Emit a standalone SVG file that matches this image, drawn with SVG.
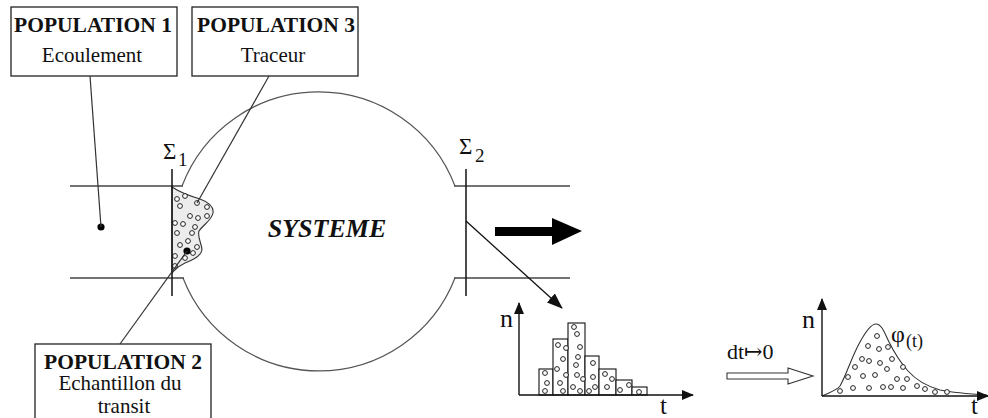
<svg xmlns="http://www.w3.org/2000/svg" width="988" height="418" viewBox="0 0 988 418">
<defs>
<style>
.box{fill:#fff;stroke:#222;stroke-width:1.3}
.ln{fill:none;stroke:#333;stroke-width:1.2}
.pipe{fill:none;stroke:#444;stroke-width:1.4}
.ax{fill:none;stroke:#111;stroke-width:1.4}
.bar{fill:#fff;stroke:#111;stroke-width:1.1}
.dot{fill:#fff;stroke:#222;stroke-width:1}
.hd{font-family:"Liberation Serif","Times New Roman",serif;font-weight:bold;font-size:21.5px;fill:#111;text-anchor:middle}
.tx{font-family:"Liberation Serif","Times New Roman",serif;font-size:21px;fill:#111;text-anchor:middle}
.lb{font-family:"Liberation Serif","DejaVu Serif",serif;fill:#111}
</style>
<marker id="ah" markerWidth="16" markerHeight="12" refX="15" refY="6" orient="auto" markerUnits="userSpaceOnUse">
<path d="M0,0 L16,6 L0,12 Z" fill="#111"/>
</marker>
<marker id="axh" markerWidth="12" markerHeight="10" refX="11" refY="5" orient="auto" markerUnits="userSpaceOnUse">
<path d="M0,0 L12,5 L0,10 Z" fill="#111"/>
</marker>
</defs>
<rect width="988" height="418" fill="#fff"/>

<g id="systeme">
<path d="M182,186 A146,146 0 0 1 455,186" fill="none" stroke="#555" stroke-width="1.2"/>
<path d="M183,278 A146,146 0 0 0 455,278" fill="none" stroke="#555" stroke-width="1.2"/>
<line class="pipe" x1="70" y1="186" x2="183" y2="186"/>
<line class="pipe" x1="70" y1="278" x2="184" y2="278"/>
<line class="pipe" x1="454" y1="186" x2="570" y2="186"/>
<line class="pipe" x1="454" y1="278" x2="570" y2="278"/>
<text class="lb" x="327" y="237" font-size="26" font-weight="bold" font-style="italic" text-anchor="middle">SYSTEME</text>
</g>

<g id="echantillon">
<path d="M172,187 C178,191 190,196 200,199 C208,202 214,207 213,213 C212,220 203,225 199,231 C197,237 202,244 202,250 C201,256 193,260 185,263 C178,266 175,270 172,273 Z" fill="#ececec" stroke="#333" stroke-width="1.1"/>
<g class="dot">
<circle cx="177" cy="199" r="2.4"/><circle cx="185" cy="196" r="2.4"/><circle cx="180" cy="206" r="2.4"/>
<circle cx="197" cy="203" r="2.4"/><circle cx="207" cy="207" r="2.4"/><circle cx="190" cy="216" r="2.4"/>
<circle cx="198" cy="218" r="2.4"/><circle cx="207" cy="216" r="2.4"/><circle cx="175" cy="223" r="2.4"/>
<circle cx="183" cy="224" r="2.4"/><circle cx="195" cy="227" r="2.4"/><circle cx="177" cy="233" r="2.4"/>
<circle cx="192" cy="233" r="2.4"/><circle cx="188" cy="241" r="2.4"/><circle cx="180" cy="245" r="2.4"/>
<circle cx="197" cy="247" r="2.4"/><circle cx="175" cy="256" r="2.4"/><circle cx="185" cy="258" r="2.4"/>
<circle cx="193" cy="253" r="2.4"/><circle cx="175" cy="266" r="2.4"/>
</g>
<circle cx="187" cy="251" r="3.6" fill="#000"/>
</g>

<g id="sigma1">
<line x1="172" y1="169" x2="172" y2="296" stroke="#111" stroke-width="1.5"/>
<text class="lb" x="163" y="159" font-size="23">Σ</text>
<text class="lb" x="178" y="166" font-size="19">1</text>
</g>

<g id="sigma2">
<line x1="466" y1="169" x2="466" y2="296" stroke="#111" stroke-width="1.5"/>
<text class="lb" x="459" y="154" font-size="23">Σ</text>
<text class="lb" x="475" y="162" font-size="19">2</text>
</g>

<g id="population1">
<rect class="box" x="11" y="7" width="166" height="69"/>
<text class="hd" x="93" y="32">POPULATION 1</text>
<text class="tx" x="92" y="62">Ecoulement</text>
<circle cx="101" cy="227" r="3.6" fill="#000"/>
</g>

<g id="population3">
<rect class="box" x="192" y="7" width="166" height="69"/>
<text class="hd" x="276" y="32">POPULATION 3</text>
<text class="tx" x="273" y="62">Traceur</text>
</g>

<g id="population2">
<rect class="box" x="35" y="344" width="176" height="90"/>
<text class="hd" x="123" y="369">POPULATION 2</text>
<text class="tx" x="120" y="390">Echantillon du</text>
<text class="tx" x="124" y="413">transit</text>
</g>

<g id="flux">
<polygon points="495,227 552,227 552,218 582,231 552,245 552,236 495,236" fill="#000"/>
</g>

<g id="histogramme">
<rect class="bar" x="539" y="369" width="14" height="26"/>
<rect class="bar" x="553" y="339" width="15" height="56"/>
<rect class="bar" x="568" y="323" width="17" height="72"/>
<rect class="bar" x="585" y="356" width="14" height="39"/>
<rect class="bar" x="599" y="369" width="17" height="26"/>
<rect class="bar" x="616" y="380" width="16" height="15"/>
<rect class="bar" x="632" y="387" width="15" height="8"/>
<g class="dot">
<circle cx="545" cy="373" r="2.4"/><circle cx="547" cy="383" r="2.4"/><circle cx="545" cy="391" r="2.4"/>
<circle cx="558" cy="345" r="2.4"/><circle cx="566" cy="348" r="2.4"/><circle cx="563" cy="359" r="2.4"/>
<circle cx="557" cy="369" r="2.4"/><circle cx="566" cy="375" r="2.4"/><circle cx="560" cy="383" r="2.4"/><circle cx="563" cy="391" r="2.4"/>
<circle cx="574" cy="327" r="2.4"/><circle cx="577" cy="334" r="2.4"/><circle cx="580" cy="347" r="2.4"/>
<circle cx="578" cy="357" r="2.4"/><circle cx="576" cy="365" r="2.4"/><circle cx="577" cy="375" r="2.4"/>
<circle cx="583" cy="379" r="2.4"/><circle cx="573" cy="387" r="2.4"/><circle cx="580" cy="391" r="2.4"/>
<circle cx="593" cy="363" r="2.4"/><circle cx="593" cy="377" r="2.4"/><circle cx="595" cy="387" r="2.4"/><circle cx="589" cy="391" r="2.4"/>
<circle cx="605" cy="374" r="2.4"/><circle cx="612" cy="379" r="2.4"/><circle cx="607" cy="387" r="2.4"/>
<circle cx="620" cy="390" r="2.4"/><circle cx="629" cy="385" r="2.4"/>
<circle cx="639" cy="392" r="2.4"/>
</g>
<line class="ax" x1="519" y1="395" x2="519" y2="303" marker-end="url(#axh)"/>
<line class="ax" x1="519" y1="395" x2="693" y2="395" marker-end="url(#axh)"/>
<text class="lb" x="500" y="327" font-size="26">n</text>
<text class="lb" x="660" y="414" font-size="25">t</text>
</g>

<g id="limite">
<text class="lb" x="727" y="359" font-size="22">dt↦0</text>
<polygon points="727,373 788,373 788,368 813,376 788,384 788,379 727,379" fill="#fff" stroke="#333" stroke-width="1.1"/>
</g>

<g id="courbe">
<path d="M822,396 C830,392 836,391 840,386 C846,376 852,356 860,342 C866,331 871,324 876,324 C882,324 885,334 889,342 C894,352 900,362 908,371 C916,380 926,386 940,390 C955,393 970,394 987,395" fill="none" stroke="#333" stroke-width="1.1"/>
<g class="dot">
<circle cx="877" cy="336" r="2.4"/><circle cx="868" cy="346" r="2.4"/><circle cx="879" cy="349" r="2.4"/>
<circle cx="888" cy="347" r="2.4"/><circle cx="862" cy="359" r="2.4"/><circle cx="869" cy="361" r="2.4"/>
<circle cx="880" cy="363" r="2.4"/><circle cx="892" cy="359" r="2.4"/><circle cx="855" cy="367" r="2.4"/>
<circle cx="887" cy="369" r="2.4"/><circle cx="903" cy="367" r="2.4"/><circle cx="848" cy="377" r="2.4"/>
<circle cx="863" cy="376" r="2.4"/><circle cx="875" cy="375" r="2.4"/><circle cx="897" cy="379" r="2.4"/>
<circle cx="907" cy="379" r="2.4"/><circle cx="840" cy="391" r="2.4"/><circle cx="853" cy="388" r="2.4"/>
<circle cx="869" cy="388" r="2.4"/><circle cx="883" cy="387" r="2.4"/><circle cx="891" cy="387" r="2.4"/>
<circle cx="903" cy="388" r="2.4"/><circle cx="917" cy="386" r="2.4"/><circle cx="925" cy="389" r="2.4"/>
<circle cx="935" cy="392" r="2.4"/><circle cx="947" cy="392" r="2.4"/>
</g>
<line class="ax" x1="822" y1="396" x2="822" y2="299" marker-end="url(#axh)"/>
<line class="ax" x1="822" y1="396" x2="988" y2="396" marker-end="url(#axh)"/>
<text class="lb" x="802" y="328" font-size="26">n</text>
<text class="lb" x="971" y="414" font-size="25">t</text>
<text class="lb" x="891" y="342" font-size="24">φ</text>
<text class="lb" x="906" y="347" font-size="18">(t)</text>
</g>

<g id="connecteurs">
<line class="ln" x1="90" y1="76" x2="101" y2="227"/>
<line class="ln" x1="269" y1="76" x2="197" y2="203"/>
<line class="ln" x1="120" y1="344" x2="187" y2="251"/>
<line x1="466" y1="221" x2="562" y2="308" stroke="#111" stroke-width="1.3" marker-end="url(#ah)"/>
</g>
</svg>
